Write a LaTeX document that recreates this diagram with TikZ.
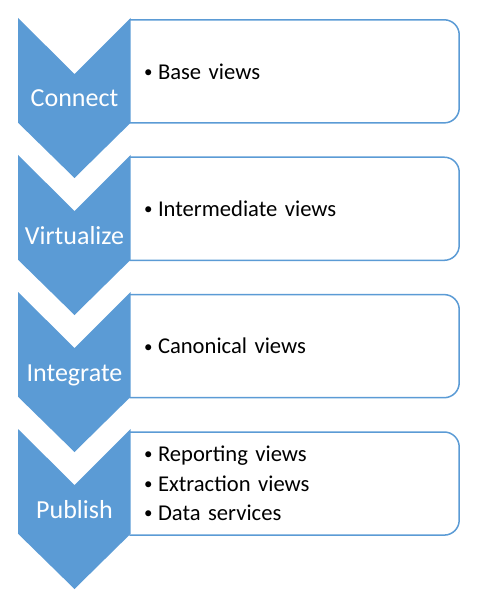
\documentclass[tikz,border=0pt]{standalone}
\usepackage{fontspec}
\setmainfont{Carlito}
\definecolor{chevblue}{RGB}{91,155,213}
\usetikzlibrary{positioning}
\newcommand{\bitem}[1]{\makebox[14pt][l]{\raisebox{1.9pt}{\scalebox{0.75}{\textbullet}}}#1}

\begin{document}
\begin{tikzpicture}[x=1pt,y=-1pt,
    chev/.style={fill=chevblue},
    chevlabel/.style={text=white,font=\fontsize{26}{30}\selectfont,anchor=base,inner sep=0pt},
    textbox/.style={rectangle,minimum width=328.5pt,minimum height=102.7pt,
      text width=300.5pt,inner xsep=14.5pt,inner ysep=0pt,align=left,
      font=\fontsize{22.6}{29.5}\selectfont},
    boxline/.style={draw=chevblue,line width=1.5pt,rounded corners=15pt}
    ]
    \useasboundingbox (0,0) rectangle (484,604);

    \node (b1) [textbox] at (294.25,71.35) {\bitem{Base views}};
    \node (b2) [textbox,below=34.3pt of b1] {\bitem{Intermediate views}};
    \node (b3) [textbox,below=34.3pt of b2] {\bitem{Canonical views}};
    \node (b4) [textbox,below=34.3pt of b3] {\bitem{Reporting views}\\
      \bitem{Extraction views}\\ \bitem{Data services}};

    % the box outlines
    \draw[boxline] (b1.north west) -- (b1.north east) -- (b1.south east) -- (b1.south west);
    \draw[boxline] (b2.north west) -- (b2.north east) -- (b2.south east) -- (b2.south west);
    \draw[boxline] (b3.north west) -- (b3.north east) -- (b3.south east) -- (b3.south west);
    \draw[boxline] (b4.north west) -- (b4.north east) -- (b4.south east) -- (b4.south west);

    % the chevrons
    \fill[chev] (18,18) -- (74.5,74) -- (130.7,18) -- (130.7,122.7) -- (74.5,178) -- (18,122.7) -- cycle;
    \fill[chev,shift={(0,137)}] (18,18) -- (74.5,74) -- (130.7,18) -- (130.7,122.7) -- (74.5,178) -- (18,122.7) -- cycle;
    \fill[chev,shift={(0,274)}] (18,18) -- (74.5,74) -- (130.7,18) -- (130.7,122.7) -- (74.5,178) -- (18,122.7) -- cycle;
    \fill[chev,shift={(0,411)}] (18,18) -- (74.5,74) -- (130.7,18) -- (130.7,122.7) -- (74.5,178) -- (18,122.7) -- cycle;

    \node (c1) [chevlabel] at (74.5,107) {Connect};
    \node (c2) [chevlabel] at (74.5,244) {Virtualize};
    \node (c3) [chevlabel] at (74.5,381) {Integrate};
    \node (c4) [chevlabel] at (74.5,518) {Publish};
\end{tikzpicture}
\end{document}
